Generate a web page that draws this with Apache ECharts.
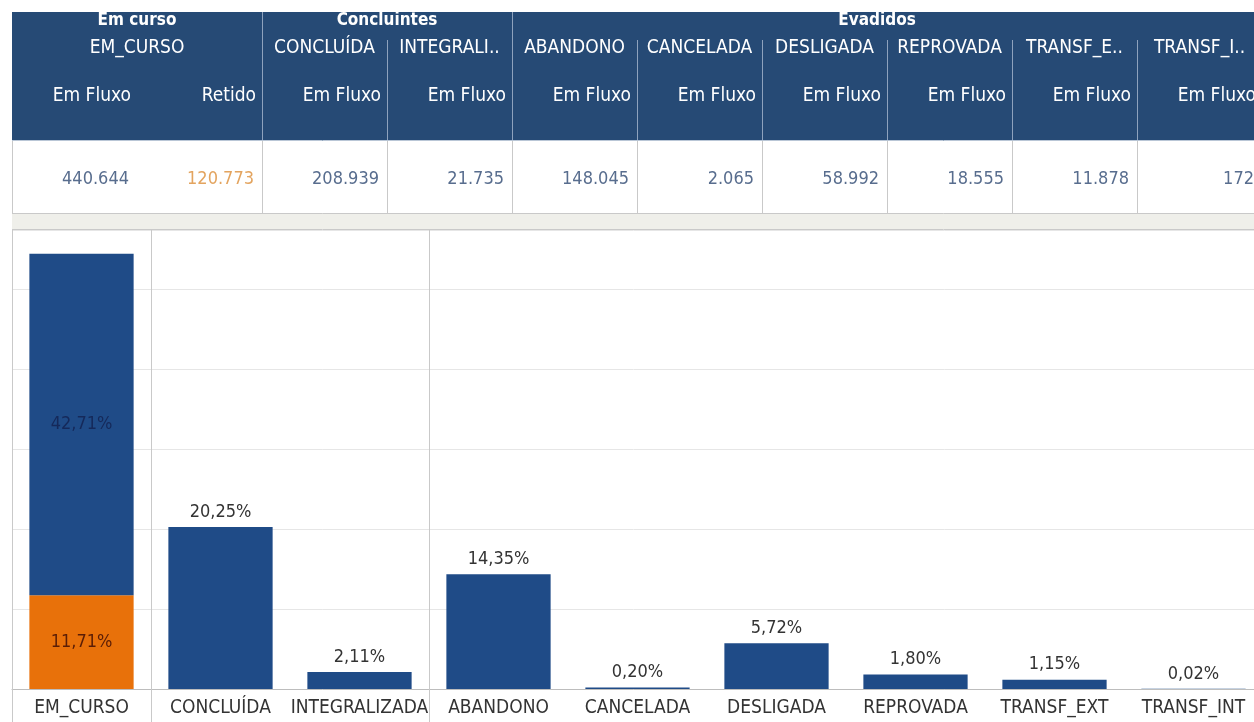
<!DOCTYPE html>
<html>
<head>
<meta charset="utf-8">
<title>Situação dos alunos</title>
<script src="https://cdn.jsdelivr.net/npm/echarts@6/dist/echarts.min.js"></script>
<style>
html, body { margin: 0; padding: 0; background: #ffffff; }
#chart { width: 1254px; height: 722px; }
</style>
</head>
<body>
<div id="chart"></div>
<script>
// === DATA ===
// crosstab header
const groupNames = ['Em curso', 'Concluintes', 'Evadidos'];
const groupSpans = [2, 2, 6]; // leaf columns under each group
const situationHeaders = ['EM_CURSO', 'CONCLUÍDA', 'INTEGRALI..', 'ABANDONO', 'CANCELADA', 'DESLIGADA', 'REPROVADA', 'TRANSF_E..', 'TRANSF_I..'];
const situationSpans = [2, 1, 1, 1, 1, 1, 1, 1, 1];
const flowHeaders = ['Em Fluxo', 'Retido', 'Em Fluxo', 'Em Fluxo', 'Em Fluxo', 'Em Fluxo', 'Em Fluxo', 'Em Fluxo', 'Em Fluxo', 'Em Fluxo'];
const counts = [440644, 120773, 208939, 21735, 148045, 2065, 58992, 18555, 11878, 172];

// bar chart (percent of all students)
const categories = ['EM_CURSO', 'CONCLUÍDA', 'INTEGRALIZADA', 'ABANDONO', 'CANCELADA', 'DESLIGADA', 'REPROVADA', 'TRANSF_EXT', 'TRANSF_INT'];
const emFluxoPct = [42.71, 20.25, 2.11, 14.35, 0.20, 5.72, 1.80, 1.15, 0.02];
const retidoPct = [11.71, '-', '-', '-', '-', '-', '-', '-', '-'];

// === LAYOUT / STYLE ===
const FONT = '"DejaVu Sans Condensed", "DejaVu Sans", sans-serif';
const W = 1254;
const VIEW_RIGHT = 1242;   // right edge used for centring the cut-off group title
const TABLE_LEFT = 12;
const COL_W = 125;
const BAND_W = 139;
const HEAD_TOP = 12;
const HEAD_BOTTOM = 141;
const ROW_BOTTOM = 213;
const PANEL_TOP = 229;
const HEAD_BG = '#264a75';
const HEAD_LINE = '#8ea2bd';
const CELL_LINE = '#c9c9c9';
const BLUE = '#1f4b87';
const ORANGE = '#e8710a';

// === HELPERS ===
function fmtThousands(n) {
    return String(n).replace(/\B(?=(\d{3})+(?!\d))/g, '.');
}

function fmtPct(v) {
    return v.toFixed(2).replace('.', ',') + '%';
}

function vline(x, y1, y2, color) {
    return { type: 'line', silent: true, shape: { x1: x + 0.5, y1: y1, x2: x + 0.5, y2: y2 }, style: { stroke: color, lineWidth: 1 } };
}

function hline(y, x1, x2, color) {
    return { type: 'line', silent: true, shape: { x1: x1, y1: y + 0.5, x2: x2, y2: y + 0.5 }, style: { stroke: color, lineWidth: 1 } };
}

function label(text, x, y, opts) {
    return {
        type: 'text', silent: true,
        style: Object.assign({
            text: text, x: x, y: y,
            fill: '#ffffff', fontFamily: FONT, fontSize: 19,
            textAlign: 'center', textVerticalAlign: 'middle'
        }, opts || {})
    };
}

// === TABLE (graphic elements) ===
function buildTable() {
    const els = [];
    const colX = i => TABLE_LEFT + i * COL_W;

    // backgrounds
    els.push({ type: 'rect', silent: true, shape: { x: TABLE_LEFT, y: HEAD_TOP, width: W - TABLE_LEFT, height: HEAD_BOTTOM - HEAD_TOP }, style: { fill: HEAD_BG } });
    els.push({ type: 'rect', silent: true, shape: { x: TABLE_LEFT, y: ROW_BOTTOM, width: W - TABLE_LEFT, height: PANEL_TOP - ROW_BOTTOM }, style: { fill: '#efefea' } });

    // group row
    let leaf = 0;
    groupNames.forEach((g, i) => {
        const x1 = colX(leaf);
        const x2 = Math.min(colX(leaf + groupSpans[i]), VIEW_RIGHT);
        els.push(label(g, (x1 + x2) / 2, 21, { fontWeight: 'bold', fontSize: 17 }));
        if (leaf > 0) els.push(vline(x1, HEAD_TOP, HEAD_BOTTOM, HEAD_LINE));
        leaf += groupSpans[i];
    });

    // situation row
    leaf = 0;
    situationHeaders.forEach((s, i) => {
        const x1 = colX(leaf);
        const x2 = colX(leaf + situationSpans[i]);
        els.push(label(s, (x1 + x2) / 2, 48));
        if (leaf > 0) els.push(vline(x1, 40, HEAD_BOTTOM, HEAD_LINE));
        leaf += situationSpans[i];
    });

    // flow row + values
    flowHeaders.forEach((f, i) => {
        const right = colX(i + 1) - 6;
        els.push(label(f, right, 96, { textAlign: 'right' }));
        els.push(label(fmtThousands(counts[i]), right - 2, 179, {
            textAlign: 'right', fontSize: 18,
            fill: f === 'Retido' ? '#e3a45f' : '#586d8e'
        }));
    });

    // data row grid
    els.push(hline(HEAD_BOTTOM - 1, TABLE_LEFT, W, '#b9c6d6'));
    els.push(vline(TABLE_LEFT, HEAD_BOTTOM, ROW_BOTTOM, CELL_LINE));
    leaf = 0;
    situationSpans.forEach((sp, i) => {
        if (leaf > 0) els.push(vline(colX(leaf), HEAD_BOTTOM, ROW_BOTTOM, CELL_LINE));
        leaf += sp;
    });
    els.push(hline(ROW_BOTTOM, TABLE_LEFT, W, CELL_LINE));
    els.push(hline(PANEL_TOP, TABLE_LEFT, W, CELL_LINE));
    return els;
}

// === CHART ===
const chart = echarts.init(document.getElementById('chart'));
const panelEdges = (i) => i === 0 || i === 1 || i === 3;

chart.setOption({
    backgroundColor: '#ffffff',
    animation: false,
    textStyle: { fontFamily: FONT },
    // the last band runs past the right edge, as in the dashboard
    grid: {
        left: TABLE_LEFT, width: BAND_W * categories.length,
        top: PANEL_TOP + 1, bottom: 33,
        containLabel: false, outerBoundsMode: 'none'
    },
    xAxis: {
        type: 'category',
        data: categories,
        boundaryGap: true,
        axisLine: { lineStyle: { color: '#bdbdbd', width: 1 } },
        axisTick: { show: true, interval: panelEdges, length: 33, lineStyle: { color: CELL_LINE } },
        splitLine: { show: true, interval: panelEdges, lineStyle: { color: CELL_LINE } },
        axisLabel: { color: '#333333', fontSize: 19, margin: 10, interval: 0, fontFamily: FONT }
    },
    yAxis: {
        type: 'value',
        min: 0,
        max: 57.375,
        interval: 10,
        axisLine: { show: false },
        axisTick: { show: false },
        axisLabel: { show: false },
        splitLine: { lineStyle: { color: '#e6e6e6' } }
    },
    series: [
        {
            name: 'Retido',
            type: 'bar',
            stack: 'total',
            barWidth: '75%',
            data: retidoPct,
            itemStyle: { color: ORANGE },
            label: {
                show: true, position: 'inside', color: '#5a1d06',
                fontSize: 18, fontFamily: FONT,
                formatter: p => fmtPct(p.value)
            }
        },
        {
            name: 'Em Fluxo',
            type: 'bar',
            stack: 'total',
            barWidth: '75%',
            data: emFluxoPct.map((v, i) => i === 0
                ? { value: v, label: { position: 'inside', color: '#15295a' } }
                : v),
            itemStyle: { color: BLUE },
            label: {
                show: true, position: 'top', distance: 6, color: '#333333',
                fontSize: 18, fontFamily: FONT,
                formatter: p => fmtPct(p.value)
            }
        }
    ],
    graphic: buildTable()
});
</script>
</body>
</html>
